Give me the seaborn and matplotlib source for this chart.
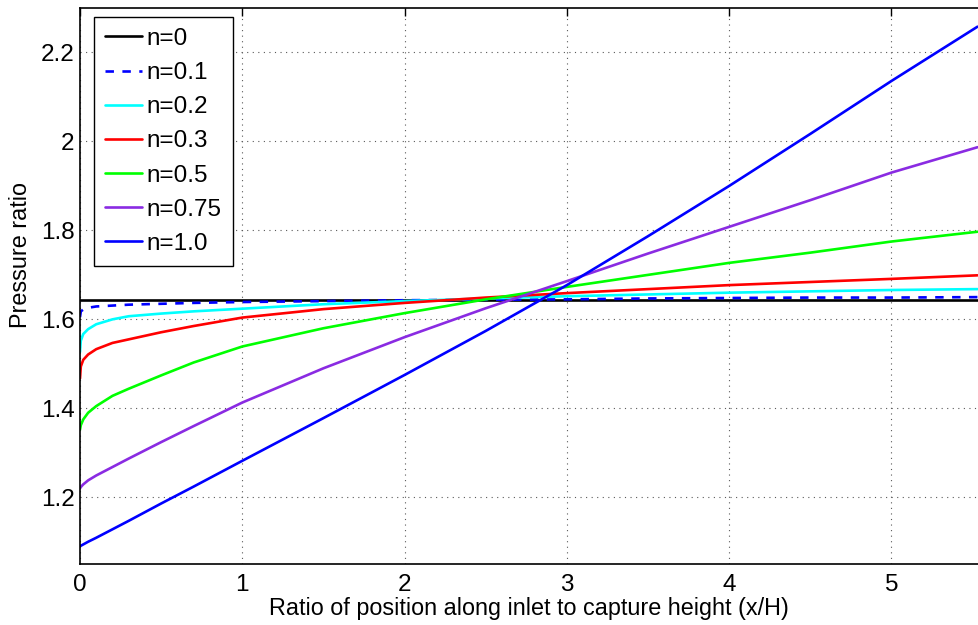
import numpy as np
import pandas as pd
import seaborn as sns
import matplotlib.pyplot as plt

# x/H sample positions
x_pos = [0, 0.005, 0.02, 0.05, 0.1, 0.2, 0.3, 0.5, 0.7, 1, 1.5, 2, 2.5, 3, 3.5, 4, 4.5, 5, 5.53]

n_labels = ["n=0", "n=0.1", "n=0.2", "n=0.3", "n=0.5", "n=0.75", "n=1.0"]

p_n0 = [1.644] * len(x_pos)
p_n01 = [1.605, 1.618, 1.622, 1.626, 1.629, 1.631, 1.633, 1.635, 1.637, 1.639,
         1.641, 1.643, 1.644, 1.645, 1.647, 1.648, 1.649, 1.649, 1.650]
p_n02 = [1.527, 1.552, 1.567, 1.578, 1.589, 1.600, 1.607, 1.613, 1.618, 1.624,
         1.634, 1.641, 1.647, 1.652, 1.656, 1.660, 1.663, 1.666, 1.668]
p_n03 = [1.467, 1.494, 1.509, 1.521, 1.533, 1.547, 1.555, 1.571, 1.585, 1.604,
         1.623, 1.637, 1.649, 1.659, 1.668, 1.677, 1.684, 1.691, 1.699]
p_n05 = [1.352, 1.362, 1.375, 1.390, 1.405, 1.428, 1.444, 1.474, 1.503, 1.539,
         1.580, 1.614, 1.645, 1.673, 1.700, 1.727, 1.750, 1.775, 1.797]
p_n075 = [1.220, 1.223, 1.229, 1.238, 1.249, 1.268, 1.287, 1.324, 1.360, 1.413,
          1.490, 1.560, 1.625, 1.686, 1.748, 1.808, 1.868, 1.930, 1.987]
p_n1 = [1.090, 1.091, 1.094, 1.100, 1.109, 1.128, 1.147, 1.186, 1.224, 1.282,
        1.378, 1.475, 1.574, 1.677, 1.787, 1.900, 2.017, 2.136, 2.258]

series = [p_n0, p_n01, p_n02, p_n03, p_n05, p_n075, p_n1]
colors = ["black", "#0000ff", "#00ffff", "#ff0000", "#00ff00", "#8a2be2", "#0000ff"]
styles = ["-", "--", "-", "-", "-", "-", "-"]

sns.set_theme(style="white")
plt.rcParams["font.family"] = ["Liberation Sans", "DejaVu Sans"]
plt.rcParams["text.color"] = "black"
plt.rcParams["axes.labelcolor"] = "black"

fig = plt.figure(figsize=(9.79, 6.25), dpi=100)
ax = fig.add_axes([80 / 979, 61 / 625, 898 / 979, 556 / 625])

for lab, vals, c, ls in zip(n_labels, series, colors, styles):
    df = pd.DataFrame({"x": x_pos, "p": vals})
    sns.lineplot(data=df, x="x", y="p", ax=ax, color=c, label=lab, linewidth=1.9)
    if ls == "--":
        ax.lines[-1].set_linestyle((0, (3.2, 3.2)))

ax.set_xlim(0, 5.533)
ax.set_ylim(1.05, 2.3)
ax.set_xticks([0, 1, 2, 3, 4, 5])
ax.set_yticks([1.2, 1.4, 1.6, 1.8, 2.0, 2.2])
ax.set_yticklabels(["1.2", "1.4", "1.6", "1.8", "2", "2.2"])

ax.grid(True, linestyle=(0, (1, 4)), color="0.35", linewidth=0.8)
ax.tick_params(direction="in", length=6, width=1, labelsize=17.5, colors="black",
               top=True, right=False)
ax.tick_params(axis="x", pad=7)
ax.tick_params(axis="y", pad=4)
for s in ["left", "bottom", "top"]:
    ax.spines[s].set_color("black")
    ax.spines[s].set_linewidth(1.2)
ax.spines["right"].set_visible(False)

ax.set_xlabel("Ratio of position along inlet to capture height (x/H)", fontsize=16.8)
ax.set_ylabel("Pressure ratio", fontsize=16.8)
ax.xaxis.set_label_coords(0.5, -0.06)
ax.yaxis.set_label_coords(-0.054, 0.555)

leg = ax.legend(loc="upper left", bbox_to_anchor=(0.016, 0.984), borderaxespad=0,
                fontsize=17.5, frameon=True, fancybox=False, framealpha=1,
                edgecolor="black", handlelength=1.5, handletextpad=0.2,
                labelspacing=0.5, borderpad=0.45)
leg.get_frame().set_linewidth(1.0)

fig.savefig("out.png", dpi=100)
